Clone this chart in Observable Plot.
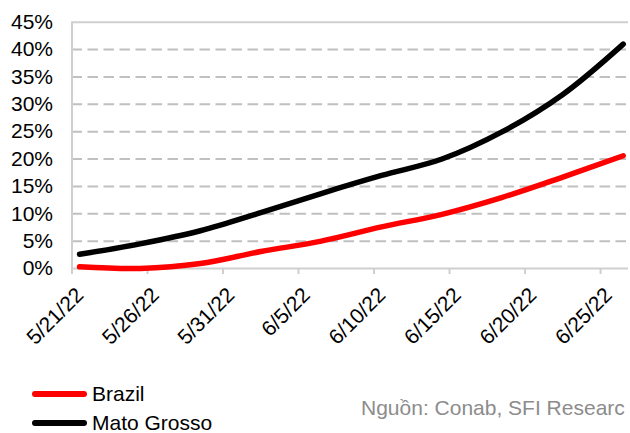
<!DOCTYPE html>
<html><head><meta charset="utf-8">
<script src="https://cdn.jsdelivr.net/npm/d3@7"></script>
<script src="https://cdn.jsdelivr.net/npm/@observablehq/plot@0.6"></script>
<style>
body{margin:0;background:#fff;}
#wrap{position:relative;width:630px;height:433px;overflow:hidden;font-family:"Liberation Sans",Arial,sans-serif;background:#fff;}
#chart{position:absolute;left:0;top:0;}
.leg{position:absolute;left:32px;height:24px;display:flex;align-items:center;font-size:21px;color:#000;white-space:nowrap;}
.sw{display:inline-block;width:55px;height:6px;border-radius:3px;margin-right:5px;}
#src{position:absolute;left:361px;top:396px;font-size:21px;color:#8c8c8c;white-space:nowrap;}
</style></head><body>
<div id="wrap"><div id="chart"></div><div id="legend"></div><div id="src">Nguồn: Conab, SFI Researc</div></div>
<script>
const seriesNames = ["Brazil", "Mato Grosso"];
const seriesColors = ["#ff0000", "#000000"];
const dates = ["2022-05-21","2022-05-25","2022-05-29","2022-06-02","2022-06-06","2022-06-10","2022-06-14","2022-06-18","2022-06-22","2022-06-26"];
const brazil = [0.3, 0.0, 0.9, 3.1, 5.0, 7.6, 9.9, 13.0, 16.7, 20.6];
const matoGrosso = [2.6, 4.5, 6.9, 10.2, 13.7, 17.0, 20.0, 25.0, 31.8, 41.0];
const xTickLabels = ["2022-05-21","2022-05-26","2022-05-31","2022-06-05","2022-06-10","2022-06-15","2022-06-20","2022-06-25"];
const yTicks = [0, 5, 10, 15, 20, 25, 30, 35, 40, 45];

const parse = d3.utcParse("%Y-%m-%d");
const seriesValues = [brazil, matoGrosso];
const rows = [];
seriesNames.forEach((s, i) => {
  dates.forEach((d, j) => rows.push({date: d3.utcHour.offset(parse(d), 12), value: seriesValues[i][j], series: s}));
});
const xTicks = xTickLabels.map(parse);
const x0 = parse("2022-05-21");
const x1 = new Date(+x0 + 36.85 * 864e5);

const chart = Plot.plot({
  width: 630, height: 372,
  marginLeft: 71.5, marginRight: 2, marginTop: 21.7, marginBottom: 104,
  x: {type: "utc", domain: [x0, x1], label: null},
  y: {domain: [0, 45], label: null},
  color: {domain: seriesNames, range: seriesColors},
  style: {fontFamily: '"Liberation Sans", Arial, sans-serif', fontSize: "21px", color: "#000", background: "#fff"},
  marks: [
    Plot.ruleY(yTicks.filter(v => v > 0 && v < 45), {stroke: "#c0c0c0", strokeWidth: 2, strokeDasharray: "10.5,5.5"}),
    Plot.ruleY([45], {stroke: "#cfcfcf", strokeWidth: 2}),
    Plot.ruleY([0], {stroke: "#cfcfcf", strokeWidth: 2}),
    Plot.ruleX([x0], {stroke: "#cfcfcf", strokeWidth: 2}),
    Plot.axisX({ticks: xTicks, tickSize: 6, stroke: "#cfcfcf", strokeWidth: 2, tickFormat: () => "", label: null}),
    Plot.axisX({ticks: xTicks, tickSize: 0, tickPadding: 0, tickRotate: -45, tickFormat: d3.utcFormat("%-m/%-d/%y"), textAnchor: "end", lineAnchor: "middle", dx: 8, dy: 23, fill: "#000", fontSize: 21, label: null}),
    Plot.axisY({ticks: yTicks, tickSize: 0, tickPadding: 19, tickFormat: d => d + "%", fill: "#000", fontSize: 21, label: null}),
    Plot.line(rows, {x: "date", y: "value", z: "series", stroke: "series", strokeWidth: 5.5, curve: "catmull-rom", strokeLinecap: "round", strokeLinejoin: "round"})
  ]
});
document.getElementById("chart").appendChild(chart);

const legend = document.getElementById("legend");
const legendTops = [382, 411];
seriesNames.forEach((s, i) => {
  const div = document.createElement("div");
  div.className = "leg";
  div.style.top = legendTops[i] + "px";
  const sw = document.createElement("span");
  sw.className = "sw";
  sw.style.background = seriesColors[i];
  div.appendChild(sw);
  div.appendChild(document.createTextNode(s));
  legend.appendChild(div);
});
</script>
</body></html>
